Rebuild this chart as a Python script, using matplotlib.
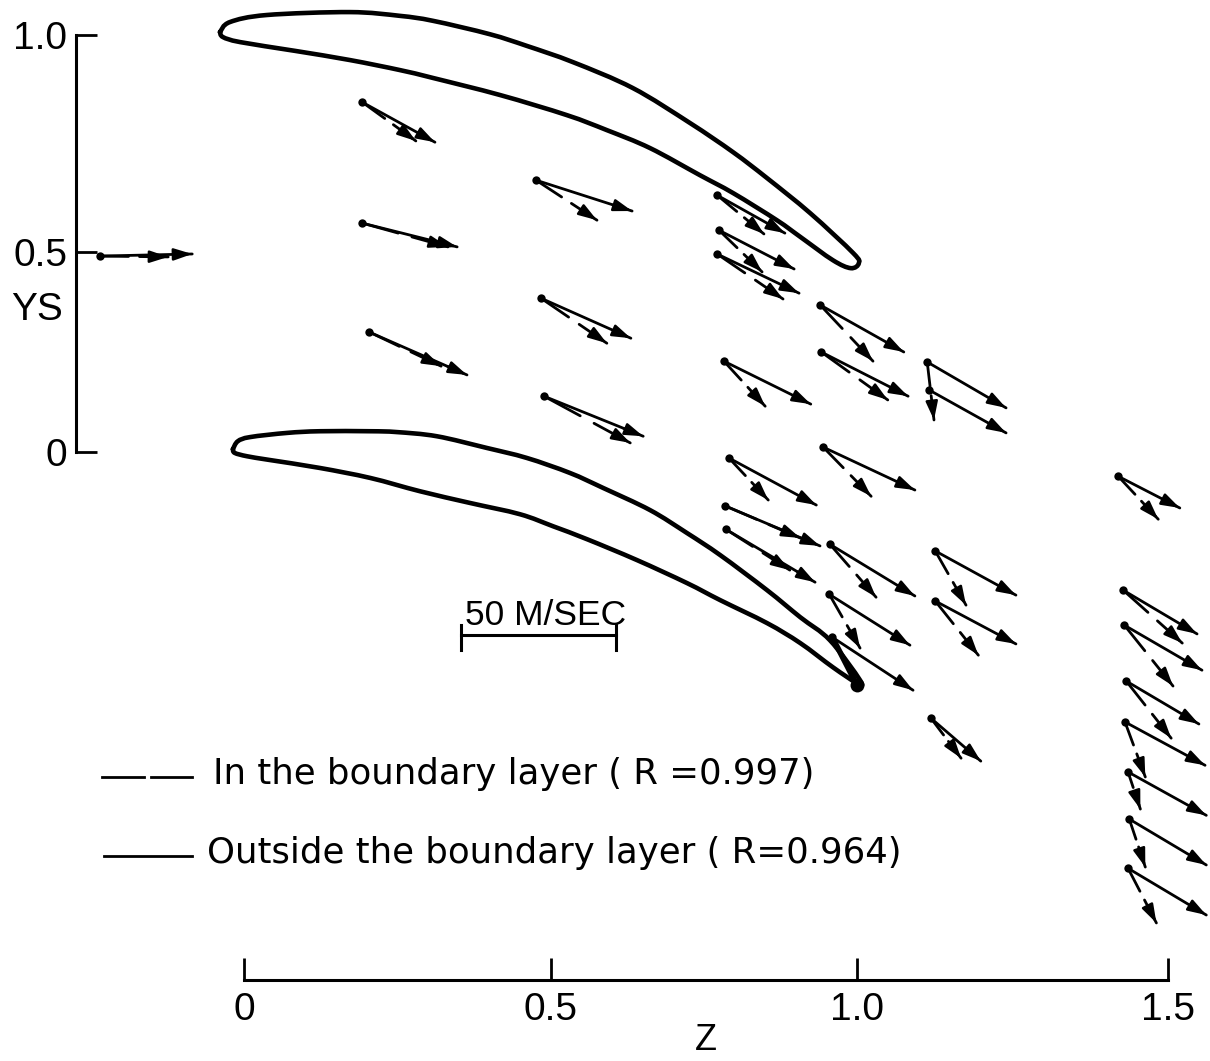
import matplotlib
matplotlib.use("Agg")
import matplotlib.pyplot as plt
from matplotlib.path import Path
from matplotlib.patches import PathPatch

plt.rcParams['font.family'] = ['Liberation Sans', 'DejaVu Sans']

# Blade outlines (Z, YS)
upper_blade_z = [-.039,-.023,.037,.172,.253,.307,.399,.459,.534,.631,.724,.794,.849,.919,.989,.998,.985,.956,.903,.865,.794,.740,.659,.589,.524,.416,.307,.253,.172,.083,-.006,-.034,-.039]
upper_blade_ys = [1.007,1.031,1.048,1.055,1.046,1.034,1.002,.974,.935,.873,.789,.719,.657,.573,.477,.453,.441,.460,.516,.556,.621,.664,.729,.772,.808,.856,.897,.916,.940,.962,.983,.995,1.007]
lower_blade_z = [-.018,-.010,.010,.070,.123,.205,.248,.313,.394,.459,.529,.583,.659,.719,.773,.849,.903,.951,1.000,.995,.956,.903,.849,.773,.719,.638,.557,.502,.448,.367,.286,.205,.123,.042,.005,-.015,-.018]
lower_blade_ys = [.007,.026,.036,.046,.050,.050,.048,.038,.010,-.014,-.050,-.086,-.139,-.194,-.247,-.331,-.396,-.451,-.547,-.554,-.516,-.458,-.410,-.355,-.314,-.259,-.209,-.178,-.149,-.122,-.094,-.062,-.038,-.019,-.010,-.002,.007]

# Measurement points and the tips of their velocity vectors
start_z = [-.234,.192,.192,.203,.474,.482,.487,.768,.771,.768,.935,.937,.779,1.109,1.112,.940,.787,.781,.782,.951,.950,.955,1.122,1.122,1.115,1.419,1.427,1.429,1.432,1.430,1.435,1.437,1.435]
start_ys = [.470,.839,.549,.288,.652,.369,.134,.616,.532,.475,.353,.240,.218,.216,.149,.012,-.014,-.129,-.185,-.221,-.341,-.444,-.237,-.357,-.638,-.058,-.331,-.415,-.549,-.647,-.767,-.880,-.998]
outside_z = [-.084,.310,.346,.362,.630,.628,.648,.878,.893,.901,1.071,1.078,.920,1.237,1.237,1.089,.929,.935,.927,1.089,1.081,1.086,1.253,1.253,1.196,1.519,1.547,1.555,1.550,1.560,1.562,1.562,1.562]
outside_ys = [.475,.743,.492,.185,.578,.273,.038,.525,.439,.381,.240,.134,.115,.106,.046,-.091,-.127,-.225,-.312,-.345,-.463,-.571,-.343,-.460,-.741,-.134,-.436,-.523,-.652,-.751,-.871,-.990,-1.110]
inside_z = [-.123,.279,.331,.320,.573,.589,.627,.844,.841,.875,1.021,1.045,.846,1.120,None,1.018,.851,.903,.886,1.026,1.000,.995,1.172,1.192,1.164,1.484,1.523,1.508,1.505,1.463,1.455,1.463,1.481]
inside_ys = [.468,.746,.492,.206,.556,.261,.022,.523,.432,.367,.218,.125,.110,.077,None,-.106,-.115,-.206,-.283,-.348,-.470,-.559,-.367,-.487,-.734,-.161,-.458,-.561,-.686,-.779,-.856,-.995,-1.129]
trailing_edge_index = 21

z_ticks = [0, 0.498, 0.995, 1.5]
z_tick_labels = ['0', '0.5', '1.0', '1.5']
ys_ticks = [0, 0.48, 1.0]
ys_tick_labels = ['0', '0.5', '1.0']
scale_bar_z = [0.352, 0.604]
scale_bar_ys = -0.439

INK = '#000000'

fig = plt.figure(figsize=(12.1, 10.61), dpi=100)
ax = fig.add_axes([0, 0, 1, 1])
ax.set_xlim(-0.396, 1.568)
ax.set_ylim(-1.460, 1.084)
ax.patch.set_alpha(0)

ax.spines['top'].set_visible(False)
ax.spines['right'].set_visible(False)
ax.spines['left'].set_position(('data', -0.273))
ax.spines['bottom'].set_position(('data', -1.265))
ax.spines['left'].set_bounds(0, 1)
ax.spines['bottom'].set_bounds(0, 1.5)
ax.spines['left'].set_linewidth(2.2)
ax.spines['bottom'].set_linewidth(2.2)
ax.set_xticks(z_ticks, z_tick_labels)
ax.set_yticks(ys_ticks, ys_tick_labels)
ax.tick_params(axis='x', direction='in', length=16, width=2.0, pad=9, labelsize=28)
ax.tick_params(axis='y', direction='in', length=15, width=2.0, pad=6, labelsize=28)
ax.set_xlabel('Z', fontsize=26, va='center')
ax.xaxis.set_label_coords(0.583, 0.019)
ax.set_ylabel('YS', fontsize=28, rotation=0, va='center', ha='center')
ax.yaxis.set_label_coords(0.031, 0.708)


def smooth_outline(zs, ys):
    pts = list(zip(zs, ys))
    n = len(pts)
    verts = [pts[0]]
    codes = [Path.MOVETO]
    for i in range(n - 1):
        p0 = pts[max(i - 1, 0)]
        p1 = pts[i]
        p2 = pts[i + 1]
        p3 = pts[min(i + 2, n - 1)]
        verts += [(p1[0] + (p2[0] - p0[0]) / 6, p1[1] + (p2[1] - p0[1]) / 6),
                  (p2[0] - (p3[0] - p1[0]) / 6, p2[1] - (p3[1] - p1[1]) / 6),
                  p2]
        codes += [Path.CURVE4, Path.CURVE4, Path.CURVE4]
    return Path(verts, codes)


for zs, ys in [(upper_blade_z, upper_blade_ys), (lower_blade_z, lower_blade_ys)]:
    ax.add_patch(PathPatch(smooth_outline(zs, ys), fill=False, edgecolor=INK, lw=3.3,
                           joinstyle='round', capstyle='round'))


def head(x0, y0, x1, y1):
    ax.annotate('', xy=(x1, y1), xytext=(x0 + 0.8 * (x1 - x0), y0 + 0.8 * (y1 - y0)),
                arrowprops=dict(arrowstyle='-|>,head_length=1.1,head_width=0.36',
                                mutation_scale=10, color=INK, lw=1.8,
                                shrinkA=0, shrinkB=0))


for i in range(len(start_z)):
    sx, sy = start_z[i], start_ys[i]
    ax.plot([sx, outside_z[i]], [sy, outside_ys[i]], color=INK, lw=2.0, solid_capstyle='round')
    head(sx, sy, outside_z[i], outside_ys[i])
    ix, iy = inside_z[i], inside_ys[i]
    if ix is None:
        continue
    if i == trailing_edge_index:
        ax.plot([sx, ix], [sy, iy], color=INK, lw=4.0, solid_capstyle='round')
        ax.plot([ix], [iy], 'o', color=INK, ms=10, mew=0)
        continue
    ax.plot([sx, sx + 0.42 * (ix - sx)], [sy, sy + 0.42 * (iy - sy)],
            color=INK, lw=2.0, solid_capstyle='round')
    ax.plot([sx + 0.58 * (ix - sx), ix], [sy + 0.58 * (iy - sy), iy],
            color=INK, lw=2.0, solid_capstyle='round')
    head(sx, sy, ix, iy)
ax.plot(start_z, start_ys, 'o', color=INK, ms=6, mew=0)

# Scale bar
ax.plot(scale_bar_z, [scale_bar_ys, scale_bar_ys], color=INK, lw=2.2)
for bar_z in scale_bar_z:
    ax.plot([bar_z, bar_z], [scale_bar_ys + 0.024, scale_bar_ys - 0.036], color=INK, lw=2.2)
ax.text(0.490, -0.392, '50 M/SEC', fontsize=25.5, ha='center', va='center', color=INK)

# Key
ax.plot([-0.231, -0.162], [-0.779, -0.779], color=INK, lw=2.0)
ax.plot([-0.151, -0.084], [-0.779, -0.779], color=INK, lw=2.0)
ax.text(-0.050, -0.772, 'In the boundary layer ( R =0.997)', fontsize=25.6,
        family='DejaVu Sans', ha='left', va='center', color=INK)
ax.plot([-0.227, -0.084], [-0.969, -0.969], color=INK, lw=2.0)
ax.text(-0.060, -0.962, 'Outside the boundary layer ( R=0.964)', fontsize=25.6,
        family='DejaVu Sans', ha='left', va='center', color=INK)

fig.savefig('out.png', dpi=100, facecolor='white')
